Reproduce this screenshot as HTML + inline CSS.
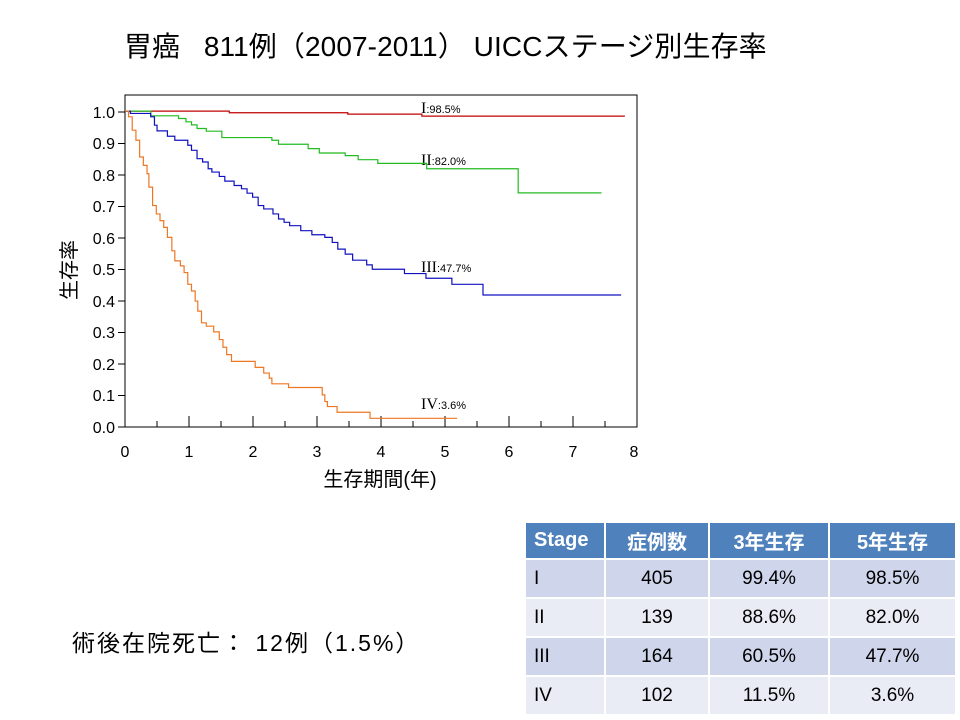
<!DOCTYPE html>
<html><head><meta charset="utf-8"><style>
body{margin:0;width:960px;height:720px;background:#fff;position:relative;overflow:hidden;font-family:"Liberation Sans","Noto Sans CJK JP",sans-serif}
.t{position:absolute;white-space:nowrap}
table{position:absolute;left:524px;top:521px;border-collapse:collapse;font-size:19px}
td{border:2px solid #fff;height:35px;text-align:center;color:#000;padding:0}
tr.h td{background:#4f81bd;color:#fff;font-weight:bold;font-size:20px}
tr.a td{background:#cfd5ea}
tr.b td{background:#e9ebf5}
td.l{text-align:left;padding-left:8px}
</style></head><body>
<div class="t" style="left:124px;top:25px;font-size:28px;letter-spacing:0.1px">胃癌&nbsp;&nbsp;&nbsp;811例（2007-2011） UICCステージ別生存率</div>
<svg width="960" height="720" style="position:absolute;left:0;top:0" font-family="Liberation Sans, Noto Sans CJK JP, sans-serif">
<rect x="125" y="95" width="512" height="332" fill="none" stroke="#000" stroke-width="1"/>
<g stroke="#000" stroke-width="1">
<line x1="118" y1="427" x2="125" y2="427"/><line x1="118" y1="395.5" x2="125" y2="395.5"/><line x1="118" y1="364" x2="125" y2="364"/><line x1="118" y1="332.5" x2="125" y2="332.5"/><line x1="118" y1="301" x2="125" y2="301"/><line x1="118" y1="269.5" x2="125" y2="269.5"/><line x1="118" y1="238" x2="125" y2="238"/><line x1="118" y1="206.5" x2="125" y2="206.5"/><line x1="118" y1="175" x2="125" y2="175"/><line x1="118" y1="143.5" x2="125" y2="143.5"/><line x1="118" y1="112" x2="125" y2="112"/>
</g>
<g stroke="#000" stroke-width="1">
<line x1="157" y1="421" x2="157" y2="427"/><line x1="189" y1="416" x2="189" y2="427"/><line x1="221" y1="421" x2="221" y2="427"/><line x1="253" y1="416" x2="253" y2="427"/><line x1="285" y1="421" x2="285" y2="427"/><line x1="317" y1="416" x2="317" y2="427"/><line x1="349" y1="421" x2="349" y2="427"/><line x1="381" y1="416" x2="381" y2="427"/><line x1="413" y1="421" x2="413" y2="427"/><line x1="445" y1="416" x2="445" y2="427"/><line x1="477" y1="421" x2="477" y2="427"/><line x1="509" y1="416" x2="509" y2="427"/><line x1="541" y1="421" x2="541" y2="427"/><line x1="573" y1="416" x2="573" y2="427"/><line x1="605" y1="421" x2="605" y2="427"/>
</g>
<g font-size="16" text-anchor="end">
<text x="115" y="433">0.0</text><text x="115" y="401">0.1</text><text x="115" y="370">0.2</text><text x="115" y="338">0.3</text><text x="115" y="307">0.4</text><text x="115" y="275">0.5</text><text x="115" y="244">0.6</text><text x="115" y="212">0.7</text><text x="115" y="181">0.8</text><text x="115" y="149">0.9</text><text x="115" y="118">1.0</text>
</g>
<g font-size="16" text-anchor="middle">
<text x="125" y="457">0</text><text x="189" y="457">1</text><text x="253" y="457">2</text><text x="317" y="457">3</text><text x="381" y="457">4</text><text x="445" y="457">5</text><text x="509" y="457">6</text><text x="573" y="457">7</text><text x="634" y="457">8</text>
</g>
<text x="380" y="486" font-size="20" text-anchor="middle">生存期間(年)</text>
<text transform="translate(76,270) rotate(-90)" font-size="20" text-anchor="middle">生存率</text>
<g font-size="11">
<text x="421" y="113"><tspan font-family="Liberation Serif" font-size="16">I</tspan>:98.5%</text>
<text x="421" y="165"><tspan font-family="Liberation Serif" font-size="16">II</tspan>:82.0%</text>
<text x="421" y="272"><tspan font-family="Liberation Serif" font-size="16">III</tspan>:47.7%</text>
<text x="421" y="409"><tspan font-family="Liberation Serif" font-size="16">IV</tspan>:3.6%</text>
</g>
<g transform="translate(60,90) scale(0.3704,0.335)" fill="none" stroke-width="1.2">
<path vector-effect="non-scaling-stroke" stroke="#c00000" d="M176,63 H457 V68 H777 V72 H977 V78 H1525"/>
<path vector-effect="non-scaling-stroke" stroke="#22bb22" d="M176,63 H245 V77 H320 V85 H340 V95 H355 V104 H370 V115 H395 V123 H437 V142 H572 V150 H590 V162 H670 V175 H700 V188 H770 V196 H805 V208 H858 V219 H990 V235 H1237 V307 H1462"/>
<path vector-effect="non-scaling-stroke" stroke="#1010c0" d="M176,63 H190 V70 H245 V80 H255 V105 H262 V122 H290 V138 H310 V150 H345 V165 H355 V180 H370 V205 H385 V215 H400 V235 H410 V245 H430 V258 H445 V272 H470 V285 H490 V295 H505 V308 H520 V320 H535 V345 H550 V355 H575 V370 H590 V385 H605 V395 H620 V405 H650 V420 H680 V432 H715 V440 H735 V455 H750 V475 H770 V490 H790 V508 H828 V522 H843 V535 H930 V548 H988 V562 H1058 V580 H1142 V612 H1515"/>
<path vector-effect="non-scaling-stroke" stroke="#ee7722" d="M176,63 H185 V80 H195 V120 H205 V150 H215 V200 H225 V225 H235 V250 H240 V290 H250 V345 H260 V370 H270 V390 H280 V410 H290 V440 H302 V480 H310 V510 H325 V525 H335 V545 H345 V580 H355 V600 H365 V630 H372 V660 H382 V695 H395 V705 H415 V722 H430 V745 H440 V768 H450 V790 H463 V810 H527 V828 H550 V845 H565 V860 H572 V877 H617 V888 H708 V910 H715 V930 H722 V945 H748 V962 H837 V980 H1072"/>
</g>
</svg>
<div class="t" style="left:72px;top:624px;font-size:23px;letter-spacing:2px">術後在院死亡：&nbsp;12例（1.5%）</div>
<table>
<tr class="h"><td class="l" style="width:70px">Stage</td><td style="width:102px">症例数</td><td style="width:118px">3年生存</td><td style="width:125px">5年生存</td></tr>
<tr class="a"><td class="l" style="height:37px">I</td><td>405</td><td>99.4%</td><td>98.5%</td></tr>
<tr class="b"><td class="l" style="height:37px">II</td><td>139</td><td>88.6%</td><td>82.0%</td></tr>
<tr class="a"><td class="l" style="height:37px">III</td><td>164</td><td>60.5%</td><td>47.7%</td></tr>
<tr class="b"><td class="l" style="height:37px">IV</td><td>102</td><td>11.5%</td><td>3.6%</td></tr>
</table>
</body></html>
